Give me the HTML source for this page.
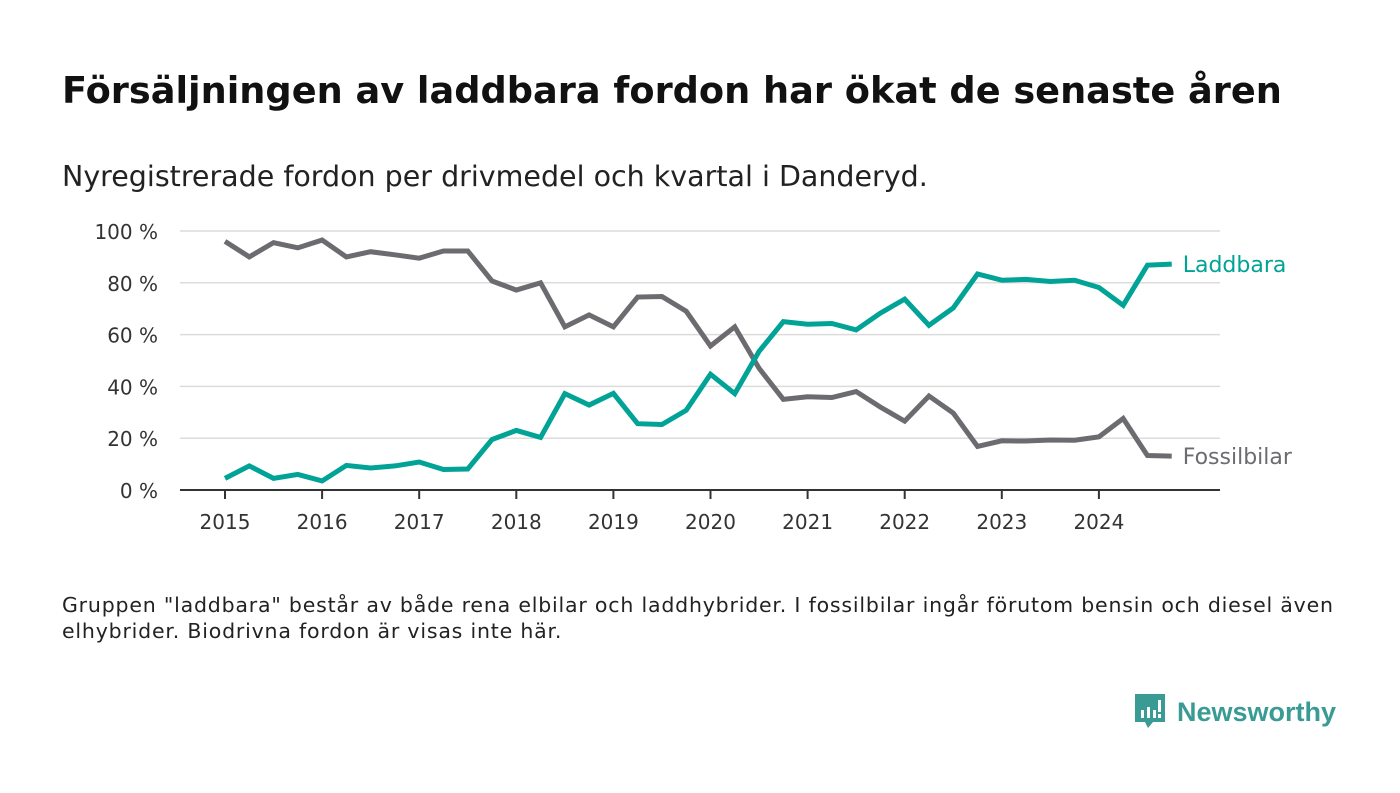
<!DOCTYPE html>
<html><head><meta charset="utf-8"><style>
body{margin:0;width:1400px;height:793px;background:#fff;font-family:"DejaVu Sans","Liberation Sans",sans-serif;overflow:hidden;position:relative}
.t{position:absolute;left:62px;top:69px;font-size:36.7px;font-weight:bold;color:#111;margin:0;white-space:nowrap}
.s{position:absolute;left:62px;top:160px;font-size:28.5px;color:#222;white-space:nowrap}
.n{position:absolute;left:62px;top:592px;font-size:20.5px;line-height:26px;color:#222;width:1295px;letter-spacing:0.8px}
.logo{position:absolute;left:1133px;top:692px;display:flex;align-items:center}
</style></head><body>
<h1 class="t">Försäljningen av laddbara fordon har ökat de senaste åren</h1>
<div class="s">Nyregistrerade fordon per drivmedel och kvartal i Danderyd.</div>
<svg id="c" width="1400" height="793" style="position:absolute;left:0;top:0"></svg>
<div class="n">Gruppen "laddbara" består av både rena elbilar och laddhybrider. I fossilbilar ingår förutom bensin och diesel även elhybrider. Biodrivna fordon är visas inte här.</div>
<div class="logo">
<svg width="34" height="40" viewBox="0 0 34 40"><path d="M2 2h30v28H20l-5 6-3-6H2z" fill="#3a9b94"/><rect x="8" y="18" width="3" height="8" fill="#fff"/><rect x="14" y="15" width="3" height="11" fill="#fff"/><rect x="20" y="18" width="3" height="8" fill="#fff"/><rect x="25" y="8" width="3" height="12" fill="#fff"/><rect x="25" y="22" width="3" height="4" fill="#fff"/></svg>
<span style="font-family:'Liberation Sans',sans-serif;font-size:27px;font-weight:bold;color:#3a9b94;margin-left:10px">Newsworthy</span></div>
<script>
const years=[2015,2016,2017,2018,2019,2020,2021,2022,2023,2024];
const yTicks=[0,20,40,60,80,100];
const laddbara=[4.5,9.3,4.5,6,3.5,9.5,8.5,9.3,10.8,7.9,8.1,19.5,23,20.3,37.2,32.8,37.3,25.6,25.3,30.8,44.7,37.2,53.5,65,64,64.3,61.8,68.3,73.7,63.6,70.3,83.4,81,81.3,80.5,81,78.2,71.3,86.8,87.2];
const fossil=[96,90,95.5,93.5,96.5,90,92,90.8,89.5,92.3,92.3,80.7,77.2,80,63,67.6,63,74.5,74.7,69,55.6,63,47,35,36,35.7,38,32,26.6,36.3,29.7,16.8,19,18.9,19.3,19.2,20.5,27.6,13.3,13.1];
const svg=document.getElementById('c');const NS='http://www.w3.org/2000/svg';
const X=t=>225+(t-2015)*97.1;const Y=v=>490-v*2.59;
function mk(tag,a,txt){const e=document.createElementNS(NS,tag);for(const k in a)e.setAttribute(k,a[k]);if(txt!=null)e.textContent=txt;svg.appendChild(e);return e;}
yTicks.forEach(v=>{
 if(v>0){const g=mk('line',{x1:180,x2:1220,y1:Y(v),y2:Y(v),stroke:'#dcdcdc','stroke-width':1.5});
 
 }
 const t=mk('text',{x:158,y:Y(v)+8,'text-anchor':'end','font-size':20,fill:'#333'},v+' %');
 
 
});
const ax=mk('line',{x1:180,x2:1220,y1:490,y2:490,stroke:'#333','stroke-width':2});


years.forEach(yr=>{
 const tk=mk('line',{x1:X(yr),x2:X(yr),y1:490,y2:499,stroke:'#333','stroke-width':2});
 
 
 const t=mk('text',{x:X(yr),y:529,'text-anchor':'middle','font-size':20,fill:'#333'},yr);
 
 
});
function line(d,col,name,label){
 const p=mk('polyline',{points:d.map((v,i)=>X(2015+i/4)+','+Y(v)).join(' '),fill:'none',stroke:col,'stroke-width':5,'stroke-linejoin':'miter'});
 
 
 const last=d[d.length-1];
 const t=mk('text',{x:X(2015+(d.length-1)/4)+11,y:Y(last)+8,'font-size':22,fill:col},label);
 
 
}
line(fossil,'#6d6b70','fossilbilar','Fossilbilar');
line(laddbara,'#00a396','laddbara','Laddbara');
</script>
</body></html>
